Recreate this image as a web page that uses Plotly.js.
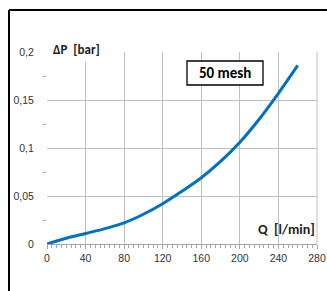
<!DOCTYPE html>
<html>
<head>
<meta charset="utf-8">
<script src="https://cdn.plot.ly/plotly-3.0.1.min.js"></script>
<style>html,body{margin:0;padding:0;background:#fff;}#chart{width:327px;height:291px;}</style>
</head>
<body>
<div id="chart"></div>
<script>
const flowQ = [0, 20, 40, 60, 80, 100, 120, 140, 160, 180, 200, 220, 240, 260];
const deltaP = [0, 0.006, 0.011, 0.016, 0.022, 0.031, 0.042, 0.055, 0.069, 0.086, 0.106, 0.130, 0.157, 0.186];
const xTicks = [0, 40, 80, 120, 160, 200, 240, 280];
const yTicks = [0, 0.05, 0.1, 0.15, 0.2];
const yTickText = ['0', '0,05', '0,1', '0,15', '0,2'];
const seriesName = '50 mesh';
const xLabel = 'Q  [l/min]';
const yLabel = 'ΔP  [bar]';

const tickFont = {family: 'Liberation Sans, Arial, sans-serif', size: 10.5, color: '#333333'};
const boldFont = {family: 'Carlito, Lato, Open Sans, sans-serif', size: 13, color: '#222222', weight: 'bold'};
const px = v => (v - 47) / 270;
const py = v => (244 - v) / 192;

const trace = {
  x: flowQ, y: deltaP, type: 'scatter', mode: 'lines',
  line: {color: '#0070C0', width: 3, shape: 'spline', smoothing: 1},
  name: seriesName, hoverinfo: 'skip'
};

const layout = {
  width: 327, height: 291,
  margin: {l: 47, r: 10, t: 52, b: 47},
  paper_bgcolor: '#ffffff', plot_bgcolor: '#ffffff',
  showlegend: false,
  separators: ', ',
  xaxis: {
    range: [0, 280], tickvals: xTicks, ticktext: xTicks.map(String),
    showgrid: true, gridcolor: '#C0C0C0', gridwidth: 1,
    showline: true, linecolor: '#A6A6A6', linewidth: 1,
    zeroline: false,
    ticks: 'outside', ticklen: 4, tickcolor: '#A6A6A6',
    ticklabeloverflow: 'allow',
    minor: {dtick: 5, tick0: 0, ticks: 'outside', ticklen: 3, tickcolor: '#A6A6A6', showgrid: false},
    tickfont: tickFont, fixedrange: true
  },
  yaxis: {
    range: [0, 0.2], tickvals: yTicks, ticktext: yTickText,
    showgrid: true, gridcolor: '#C0C0C0', gridwidth: 1,
    showline: false, zeroline: false,
    ticks: 'outside', ticklen: 0, tickcolor: '#A6A6A6',
    ticklabelstandoff: 10,
    minor: {tickvals: [0.025, 0.075, 0.125, 0.175], ticks: 'outside', ticklen: 3, tickcolor: '#A6A6A6', showgrid: false},
    tickfont: tickFont, fixedrange: true
  },
  shapes: [
    {type: 'line', xref: 'paper', yref: 'paper', x0: 1, x1: 1, y0: 0, y1: 1,
     line: {color: '#C0C0C0', width: 1}, layer: 'below'},
    {type: 'rect', xref: 'paper', yref: 'paper', x0: px(42), x1: px(113), y0: py(61), y1: py(38),
     fillcolor: '#ffffff', line: {width: 0}, layer: 'above'},
    {type: 'rect', xref: 'paper', yref: 'paper', x0: px(187), x1: px(263), y0: py(85), y1: py(61),
     fillcolor: '#ffffff', line: {color: '#000000', width: 1.3}, layer: 'above'},
    {type: 'line', xref: 'paper', yref: 'paper', x0: px(9), x1: px(9), y0: py(10), y1: py(300),
     line: {color: '#000000', width: 2}},
    {type: 'line', xref: 'paper', yref: 'paper', x0: px(9), x1: px(340), y0: py(10), y1: py(10),
     line: {color: '#000000', width: 2}}
  ],
  annotations: [
    {text: '<b>' + yLabel + '</b>', xref: 'paper', yref: 'paper', x: px(51), y: py(49),
     xanchor: 'left', yanchor: 'middle', showarrow: false, font: boldFont},
    {text: '<b>' + seriesName + '</b>', xref: 'paper', yref: 'paper', x: px(225), y: py(73),
     xanchor: 'center', yanchor: 'middle', showarrow: false, font: Object.assign({}, boldFont, {size: 15, color: '#000000'})},
    {text: '<b>' + xLabel + '</b>', xref: 'paper', yref: 'paper', x: px(317), y: py(229),
     xanchor: 'right', yanchor: 'middle', showarrow: false, font: Object.assign({}, boldFont, {size: 14})}
  ]
};

Plotly.newPlot('chart', [trace], layout, {displayModeBar: false, staticPlot: true});
</script>
</body>
</html>
